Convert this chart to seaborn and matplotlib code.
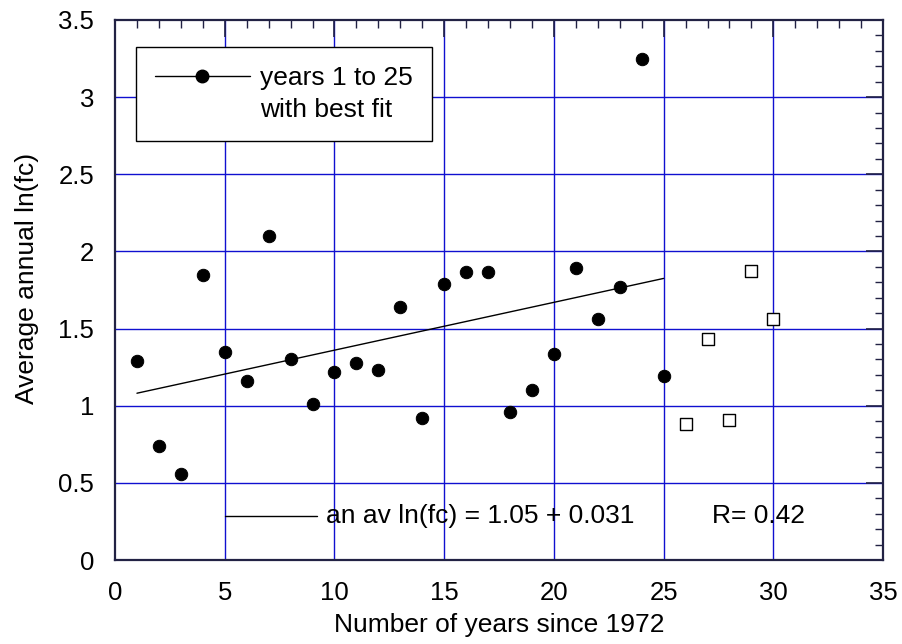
import numpy as np
import seaborn as sns
import matplotlib.pyplot as plt
from matplotlib.lines import Line2D
from matplotlib.ticker import MultipleLocator

# --- data ---
years_fit = [1, 2, 3, 4, 5, 6, 7, 8, 9, 10, 11, 12, 13, 14, 15, 16, 17, 18, 19, 20, 21, 22, 23, 24, 25]
lnfc_fit = [1.29, 0.74, 0.56, 1.85, 1.35, 1.16, 2.10, 1.30, 1.01, 1.22, 1.28, 1.23, 1.64, 0.92,
            1.79, 1.865, 1.865, 0.96, 1.10, 1.335, 1.895, 1.56, 1.77, 3.25, 1.19]
years_later = [26, 27, 28, 29, 30]
lnfc_later = [0.88, 1.43, 0.91, 1.87, 1.56]

intercept = 1.05
slope = 0.031
fit_x = [1, 25]
fit_y = [intercept + slope * fit_x[0], intercept + slope * fit_x[1]]

sns.set_style("white")
plt.rcParams['font.family'] = ['Liberation Sans', 'DejaVu Sans']
plt.rcParams['text.color'] = 'black'
plt.rcParams['axes.labelcolor'] = 'black'
plt.rcParams['xtick.labelcolor'] = 'black'
plt.rcParams['ytick.labelcolor'] = 'black'
FS = 19

fig = plt.figure(figsize=(9.02, 6.44), dpi=100)
ax = fig.add_axes([0.1275, 0.1304, 0.8515, 0.8386])

# grid first so marks sit on top
for gx in range(5, 35, 5):
    ax.axvline(gx, color="#1010d0", lw=1, zorder=0)
for gy in np.arange(0.5, 3.5, 0.5):
    ax.axhline(gy, color="#1010d0", lw=1, zorder=0)

sns.lineplot(x=fit_x, y=fit_y, color="black", lw=1, ax=ax, zorder=2)
sns.scatterplot(x=years_fit, y=lnfc_fit, color="black", s=80, edgecolor="black", ax=ax, zorder=3)
sns.scatterplot(x=years_later, y=lnfc_later, marker="s", s=68, facecolor="white",
                edgecolor="black", linewidth=1, ax=ax, zorder=3)

ax.set_xlim(0, 35)
ax.set_ylim(0, 3.5)
ax.xaxis.set_major_locator(MultipleLocator(5))
ax.xaxis.set_minor_locator(MultipleLocator(1))
ax.yaxis.set_major_locator(MultipleLocator(0.5))
ax.yaxis.set_minor_locator(MultipleLocator(0.1))
ax.set_xticklabels([f"{v:g}" for v in ax.get_xticks()])
ax.set_yticklabels([f"{v:g}" for v in ax.get_yticks()])
ax.tick_params(which="both", direction="in", top=True, right=True, labelsize=FS - 0.5, color="#222244")
ax.tick_params(which="major", length=12, width=1.2, pad=15)
ax.tick_params(which="minor", length=6, width=1)
for sp in ax.spines.values():
    sp.set_color("#222244")
    sp.set_linewidth(1.6)

ax.set_xlabel("Number of years since 1972", fontsize=FS, labelpad=6)
ax.set_ylabel("Average annual ln(fc)", fontsize=FS)
ax.yaxis.set_label_coords(-0.099, 0.522)

# legend: marker sits on the first text line, second line has no handle
handle = Line2D([], [], color="black", lw=1, marker="o", markersize=9)
blank = Line2D([], [], color="none")
leg = ax.legend([handle, blank], ["years 1 to 25", "with best fit"], loc="upper left",
                bbox_to_anchor=(0.027, 0.95), fontsize=FS, handlelength=3.6,
                fancybox=False, framealpha=1, borderpad=0.72, borderaxespad=0,
                handletextpad=0.38, labelspacing=0.3)
leg.get_frame().set_edgecolor("black")
leg.get_frame().set_linewidth(1)

# fit annotation at the bottom
ax.plot([5, 9.2], [0.285, 0.285], color="black", lw=1)
ax.text(9.6, 0.285, "an av ln(fc) = 1.05 + 0.031", fontsize=FS, va="center")
ax.text(27.2, 0.285, "R= 0.42", fontsize=FS, va="center")

fig.savefig("out.png", dpi=100)
